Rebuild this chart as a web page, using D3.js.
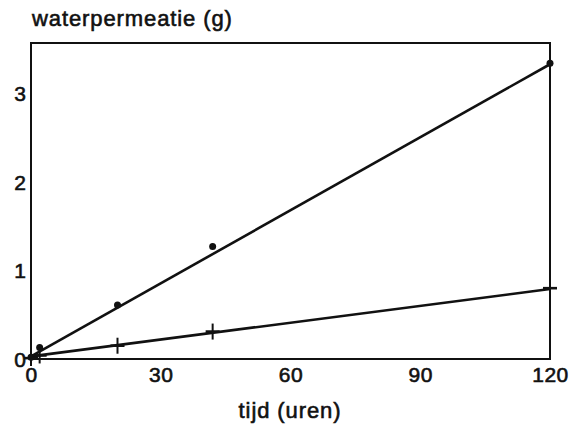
<!DOCTYPE html>
<html>
<head>
<meta charset="utf-8">
<script src="https://cdn.jsdelivr.net/npm/d3@7"></script>
<style>
  html, body { margin: 0; padding: 0; background: #fff; }
  svg text { font-family: "Liberation Sans", Arial, sans-serif; fill: #111; stroke: #111; stroke-width: 0.6px; }
</style>
</head>
<body>
<svg id="chart" width="571" height="427"></svg>
<script>
// gemeten waarden (tijd in uren, permeatie in gram)
const dotTimes  = [0, 2, 20, 42, 120];
const dotValues = [0.02, 0.13, 0.61, 1.27, 3.34];
const crossTimes  = [0, 2, 20, 42, 120];
const crossValues = [0.01, 0.04, 0.15, 0.31, 0.80];
// regressielijnen: begin- en eindpunt
const fitDots   = [[0, 0.03], [120, 3.33]];
const fitCross  = [[0, 0.03], [120, 0.79]];
const xTicks = [0, 30, 60, 90, 120];
const yTicks = [0, 1, 2, 3];

const svg = d3.select('#chart');
const m = { left: 31, right: 550, top: 43, bottom: 359 };

const x = d3.scaleLinear().domain([0, 120]).range([m.left, m.right]);
const y = d3.scaleLinear().domain([0, 3.57]).range([m.bottom, m.top]);

// kader
svg.append('rect')
  .attr('x', m.left).attr('y', m.top)
  .attr('width', m.right - m.left).attr('height', m.bottom - m.top)
  .attr('fill', 'none').attr('stroke', '#111').attr('stroke-width', 2);

// x-as labels
const xAxis = d3.axisBottom(x).tickValues(xTicks).tickFormat(d3.format('d')).tickSize(0).tickPadding(8);
const gx = svg.append('g').attr('transform', `translate(0,${m.bottom})`).call(xAxis);
gx.select('.domain').remove();
gx.selectAll('text').attr('font-size', 21).attr('letter-spacing', 0.5).attr('dy', '0.72em');

// y-as labels
const yAxis = d3.axisLeft(y).tickValues(yTicks).tickFormat(d3.format('d')).tickSize(0).tickPadding(5);
const gy = svg.append('g').attr('transform', `translate(${m.left},0)`).call(yAxis);
gy.select('.domain').remove();
gy.selectAll('text').attr('font-size', 21).attr('dy', '0.35em');

// titels
svg.append('text').attr('x', 32).attr('y', 26).attr('font-size', 22)
  .attr('letter-spacing', 0.9).text('waterpermeatie (g)');
svg.append('text').attr('x', 290).attr('y', 418).attr('text-anchor', 'middle')
  .attr('font-size', 22).attr('letter-spacing', 0.9).text('tijd (uren)');

const line = d3.line().x(d => x(d[0])).y(d => y(d[1]));
[fitDots, fitCross].forEach(f => {
  svg.append('path').attr('d', line(f)).attr('fill', 'none')
    .attr('stroke', '#111').attr('stroke-width', 2.6);
});

// stippen
svg.selectAll('.dot').data(dotTimes.map((t, i) => [t, dotValues[i]])).enter()
  .append('circle').attr('class', 'dot')
  .attr('cx', d => x(d[0])).attr('cy', d => y(d[1])).attr('r', 3.5)
  .attr('fill', '#111');

// kruisjes
const crosses = svg.selectAll('.cross').data(crossTimes.map((t, i) => [t, crossValues[i]])).enter()
  .append('g').attr('class', 'cross')
  .attr('transform', d => `translate(${x(d[0])},${y(d[1])})`);
crosses.append('line').attr('x1', 0).attr('x2', 0).attr('y1', -8).attr('y2', 8)
  .attr('stroke', '#111').attr('stroke-width', 2);
crosses.append('line').attr('x1', -7).attr('x2', 7).attr('y1', 0).attr('y2', 0)
  .attr('stroke', '#111').attr('stroke-width', 2.6);
</script>
</body>
</html>
